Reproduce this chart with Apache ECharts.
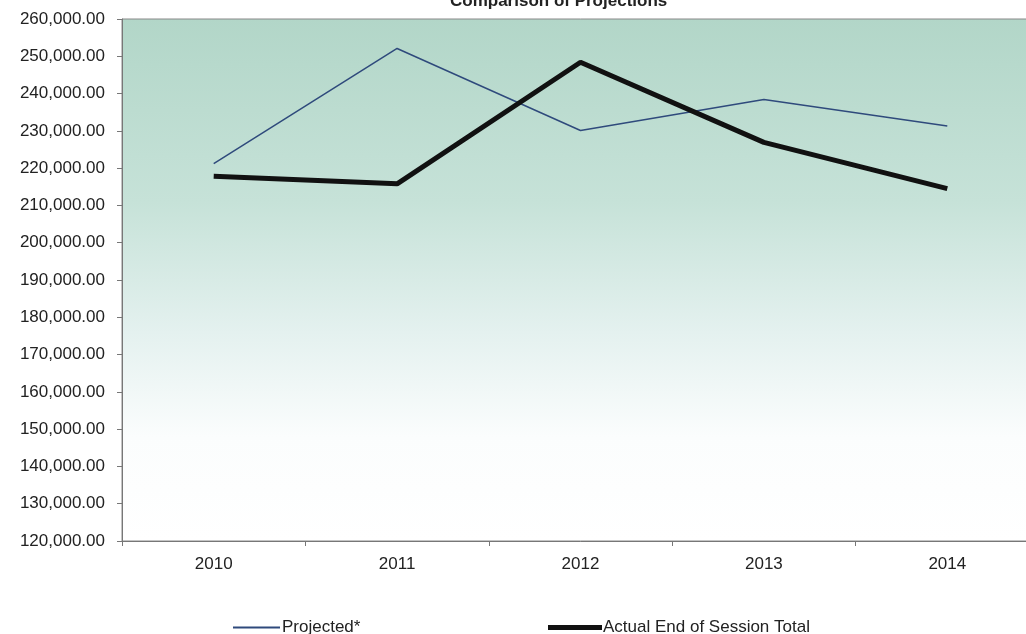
<!DOCTYPE html>
<html>
<head>
<meta charset="utf-8">
<script src="https://cdn.jsdelivr.net/npm/echarts@6/dist/echarts.min.js"></script>
<style>html,body{margin:0;padding:0;background:#fff;overflow:hidden;width:1026px;height:634px;}#c{width:1045px;height:634px;}</style>
</head>
<body>
<div id="c"></div>
<script>
const titleText = "Comparison of Projections";
const categories = ["2010", "2011", "2012", "2013", "2014"];
const projected = [221200, 252100, 230100, 238400, 231300];
const actual = [217800, 215800, 248400, 226900, 214500];
const seriesNames = ["Projected*", "Actual End of Session Total"];

const chart = echarts.init(document.getElementById('c'));
const fmt = v => v.toLocaleString('en-US', {minimumFractionDigits: 2, maximumFractionDigits: 2});
const FONT = 'Liberation Sans';
chart.setOption({
  animation: false,
  backgroundColor: '#ffffff',
  title: {
    text: titleText, left: 445, top: -12,
    textStyle: {fontFamily: FONT, fontSize: 17, fontWeight: 'bold', color: '#222'}
  },
  legend: [
    {data: [{name: seriesNames[0], icon: 'path://M0,0 L47,0 L47,2 L0,2 Z'}], left: 228, top: 614, itemWidth: 47, itemHeight: 2, itemGap: 0,
     textStyle: {fontFamily: FONT, fontSize: 17, color: '#222', padding: [0,0,0,-3]}},
    {data: [{name: seriesNames[1], icon: 'path://M0,0 L54,0 L54,5 L0,5 Z'}], left: 543, top: 614, itemWidth: 54, itemHeight: 5, itemGap: 0,
     textStyle: {fontFamily: FONT, fontSize: 17, color: '#222', padding: [0,0,0,-4]}}
  ],
  grid: {
    left: 122, top: 19, width: 917, height: 522,
    show: true, borderColor: '#888', borderWidth: 1,
    backgroundColor: new echarts.graphic.LinearGradient(0, 0, 0, 1, [
      {offset: 0, color: '#b2d6c8'},
      {offset: 0.35, color: '#c6e2d8'},
      {offset: 0.6, color: '#e4f1ef'},
      {offset: 0.8, color: '#fbfdfd'},
      {offset: 1, color: '#ffffff'}
    ])
  },
  xAxis: {
    type: 'category', data: categories, boundaryGap: true,
    axisLine: {lineStyle: {color: '#777', width: 1}},
    axisTick: {show: true, length: 5, lineStyle: {color: '#777'}},
    axisLabel: {fontFamily: FONT, fontSize: 17, color: '#222', margin: 15},
    splitLine: {show: false}
  },
  yAxis: {
    type: 'value', min: 120000, max: 260000, interval: 10000,
    axisLine: {show: true, lineStyle: {color: '#777', width: 1}},
    axisTick: {show: true, length: 5, lineStyle: {color: '#777'}},
    axisLabel: {fontFamily: FONT, fontSize: 17, color: '#222', margin: 17, formatter: fmt},
    splitLine: {show: false}
  },
  series: [
    {name: seriesNames[0], type: 'line', data: projected, symbol: 'none',
     lineStyle: {color: '#2f4a7c', width: 1.5}, itemStyle: {color: '#2f4a7c'}},
    {name: seriesNames[1], type: 'line', data: actual, symbol: 'none',
     lineStyle: {color: '#111111', width: 5}, itemStyle: {color: '#111111'}}
  ]
});
</script>
</body>
</html>
